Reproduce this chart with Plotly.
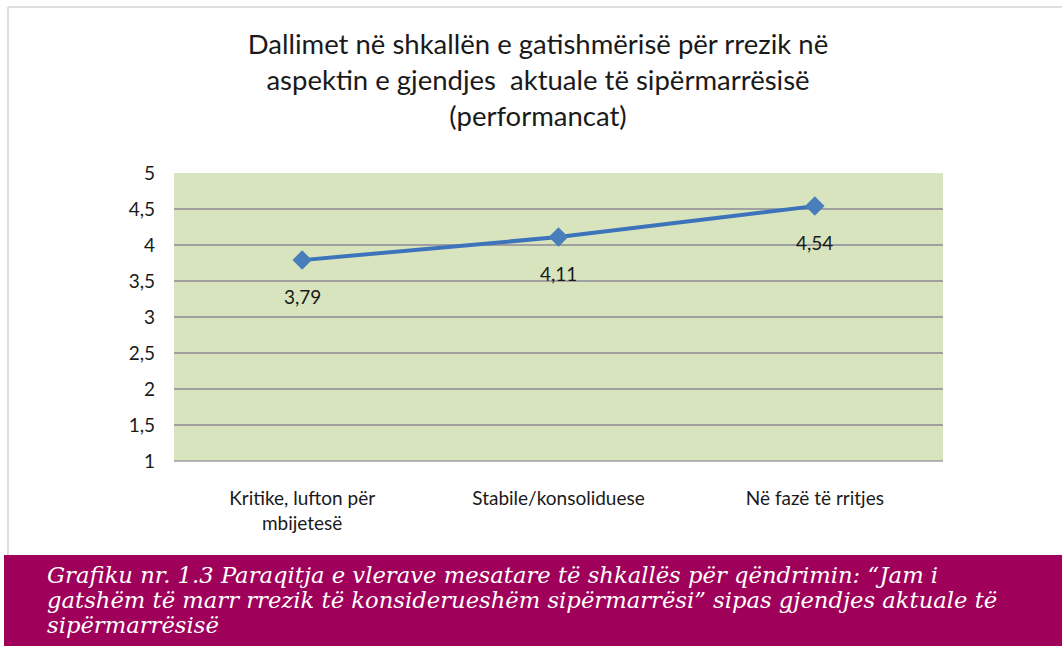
import plotly.graph_objects as go

categories = ["Kritike, lufton për<br>mbijetesë", "Stabile/konsoliduese", "Në fazë të rritjes"]
values = [3.79, 4.11, 4.54]
y_ticks = [1, 1.5, 2, 2.5, 3, 3.5, 4, 4.5, 5]
caption_lines = [
    "Grafiku nr. 1.3 Paraqitja e vlerave mesatare të shkallës për qëndrimin: “Jam i",
    "gatshëm të marr rrezik të konsiderueshëm sipërmarrësi” sipas gjendjes aktuale të",
    "sipërmarrësisë",
]

W, H = 1062, 646
L, R, T, B = 174, 943, 173, 461
pw, ph = R - L, B - T
FONT = "Lato, Liberation Sans, sans-serif"

def px(x):
    return (x - L) / pw

def py(y):
    return (B - y) / ph

fig = go.Figure()
fig.add_trace(go.Scatter(
    x=[0, 1, 2], y=values, mode="lines+markers",
    line=dict(color="#3c73bb", width=4),
    marker=dict(symbol="diamond", size=15, color="#4a7ebb"),
    cliponaxis=False, showlegend=False, hoverinfo="skip",
))

annotations = []
for i, v in enumerate(values):
    annotations.append(dict(
        x=i, y=v, xref="x", yref="y", text=f"{v:.2f}".replace(".", ","),
        showarrow=False, yshift=-36,
        font=dict(family=FONT, size=19, color="#1a1a1a"),
    ))
for line, yc in zip(caption_lines, [575, 600, 625]):
    annotations.append(dict(
        text=line, xref="paper", yref="paper", x=px(45), y=py(yc),
        xanchor="left", yanchor="middle", align="left", showarrow=False,
        font=dict(family="DejaVu Serif, serif", size=22.7, color="white", style="italic"),
    ))

fig.update_layout(
    width=W, height=H,
    margin=dict(l=L, r=W - R, t=T, b=H - B),
    paper_bgcolor="white", plot_bgcolor="#d8e4bd",
    separators=",.",
    title=dict(
        text="Dallimet në shkallën e gatishmërisë për rrezik në<br>aspektin e gjendjes  aktuale të sipërmarrësisë<br>(performancat)",
        x=538 / W, xanchor="center", y=1 - 54 / H, yanchor="middle",
        font=dict(family=FONT, size=27.5, color="#1a1a1a"),
    ),
    xaxis=dict(
        range=[-0.5, 2.5], tickvals=[0, 1, 2], ticktext=categories,
        showgrid=False, zeroline=False, showline=False, ticks="",
        tickfont=dict(family=FONT, size=19, color="#1a1a1a"),
        ticklabelstandoff=24,
    ),
    yaxis=dict(
        range=[1, 5], tickvals=y_ticks,
        showgrid=True, gridcolor="#a0a0a0", gridwidth=1.5, zeroline=False,
        showline=False, ticks="",
        tickfont=dict(family=FONT, size=19, color="#1a1a1a"),
        ticklabelstandoff=18,
    ),
    shapes=[
        dict(type="line", xref="paper", yref="paper", x0=px(8), x1=px(1062), y0=py(7), y1=py(7),
             line=dict(color="#d4d4d4", width=1.5)),
        dict(type="line", xref="paper", yref="paper", x0=px(8), x1=px(8), y0=py(7), y1=py(555),
             line=dict(color="#d4d4d4", width=1.5)),
        dict(type="line", xref="paper", yref="paper", x0=0, x1=1, y0=0, y1=0,
             line=dict(color="#a0a0a0", width=1.5)),
        dict(type="rect", xref="paper", yref="paper", x0=px(4), x1=px(1062), y0=py(555), y1=py(646),
             fillcolor="#9e005a", line=dict(width=0), layer="below"),
    ],
    annotations=annotations,
)

fig.write_html("out.html", config={"displayModeBar": False},
               post_script="document.body.style.margin='0px';")
